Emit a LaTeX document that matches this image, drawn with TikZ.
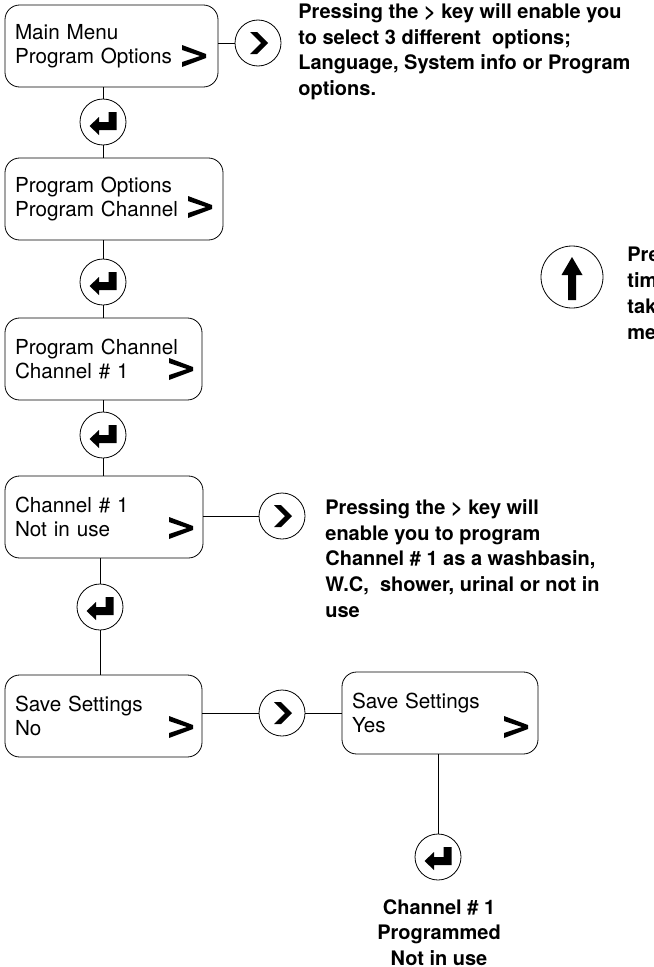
\documentclass[tikz,border=0pt]{standalone}
\usepackage{fontspec}
\setmainfont{TeX Gyre Heros}

\begin{document}
\begin{tikzpicture}[x=0.75pt, y=-0.75pt, line width=0.6pt,
    lcd/.style={
        rectangle, draw, rounded corners=11pt,
        minimum height=61.5pt, inner xsep=7.5pt, inner ysep=0pt,
        align=left, font=\fontsize{15.5pt}{18pt}\selectfont
    },
    key/.style={circle, draw, minimum size=34.5pt, inner sep=0pt},
    nextkey/.style={key, path picture={
        \fill[shift={(path picture bounding box.center)}]
            (-8,-11) -- (-1,-11) -- (10,0) -- (-1,11) -- (-8,11) -- (3,0) -- cycle;}},
    enterkey/.style={key, path picture={
        \fill[shift={(path picture bounding box.center)}]
            (13.5,-10) -- (13.5,8) -- (-4,8) -- (-4,13) -- (-13.5,4) -- (-4,-5)
            -- (-4,0) -- (5.5,0) -- (5.5,-10) -- cycle;}},
    upkey/.style={key, minimum size=46.5pt, path picture={
        \fill[shift={(path picture bounding box.center)}]
            (0,-20) -- (10.5,-2) -- (4,-2) -- (4,23) -- (-4,23) -- (-4,-2)
            -- (-10.5,-2) -- cycle;}},
    note/.style={align=left, inner sep=0pt,
        font=\bfseries\fontsize{15pt}{19.3pt}\selectfont},
    more/.pic={
        \fill (-12,-11) -- (12,-2) -- (12,2) -- (-12,11) -- (-12,6) -- (6,0)
            -- (-12,-6) -- cycle;}
    ]
    \useasboundingbox (0,0) rectangle (653,967);

    \node [lcd, text width=144.75pt] (b1) at (111.5,46)  {Main Menu\\Program Options};
    \node [lcd, text width=148.5pt]  (b2) at (114,199)   {Program Options\\Program Channel};
    \node [lcd, text width=132.75pt] (b3) at (103.5,359) {Program Channel\\Channel \# 1};
    \node [lcd, text width=133.5pt]  (b4) at (104,517)   {Channel \# 1\\Not in use};
    \node [lcd, text width=132.75pt] (b5) at (103.5,716) {Save Settings\\No};
    \node [lcd, text width=132pt]    (b6) at (440,713)   {Save Settings\\Yes};

    \pic at (194,56)  {more};
    \pic at (200,207) {more};
    \pic at (181,369) {more};
    \pic at (181,528) {more};
    \pic at (181,727) {more};
    \pic at (516,727) {more};

    \node [nextkey]  (n1) at (258,43)  {};
    \node [enterkey] (e1) at (103,122) {};
    \node [enterkey] (e2) at (103,282) {};
    \node [enterkey] (e3) at (103,435) {};
    \node [nextkey]  (n2) at (282,516) {};
    \node [enterkey] (e4) at (100,607) {};
    \node [nextkey]  (n3) at (282,713) {};
    \node [enterkey] (e5) at (438,857) {};
    \node [upkey]    (u1) at (572,277) {};

    \draw (b1.east |- n1) -- (n1);
    \draw (e1 |- b1.south) -- (e1) -- (e1 |- b2.north);
    \draw (e2 |- b2.south) -- (e2) -- (e2 |- b3.north);
    \draw (e3 |- b3.south) -- (e3) -- (e3 |- b4.north);
    \draw (b4.east |- n2) -- (n2);
    \draw (e4 |- b4.south) -- (e4) -- (e4 |- b5.north);
    \draw (b5.east |- n3) -- (n3) -- (n3 -| b6.west);
    \draw (e5 |- b6.south) -- (e5);

    \node [note, anchor=north west] (t1) at (298,3)
        {Pressing the > key will enable you\\to select 3 different\ \ options;\\Language, System info or Program\\options.};
    \node [note, anchor=north west] (t2) at (325,499)
        {Pressing the > key will\\enable you to program\\Channel \# 1 as a washbasin,\\W.C,\ \ shower, urinal or not in\\use};
    \node [note, anchor=north west] (t3) at (627,247) {Pre\\tim\\tak\\me};
    \node [note, anchor=north, align=center] (t4) at (439,899)
        {Channel \# 1\\Programmed\\Not in use};
\end{tikzpicture}
\end{document}
